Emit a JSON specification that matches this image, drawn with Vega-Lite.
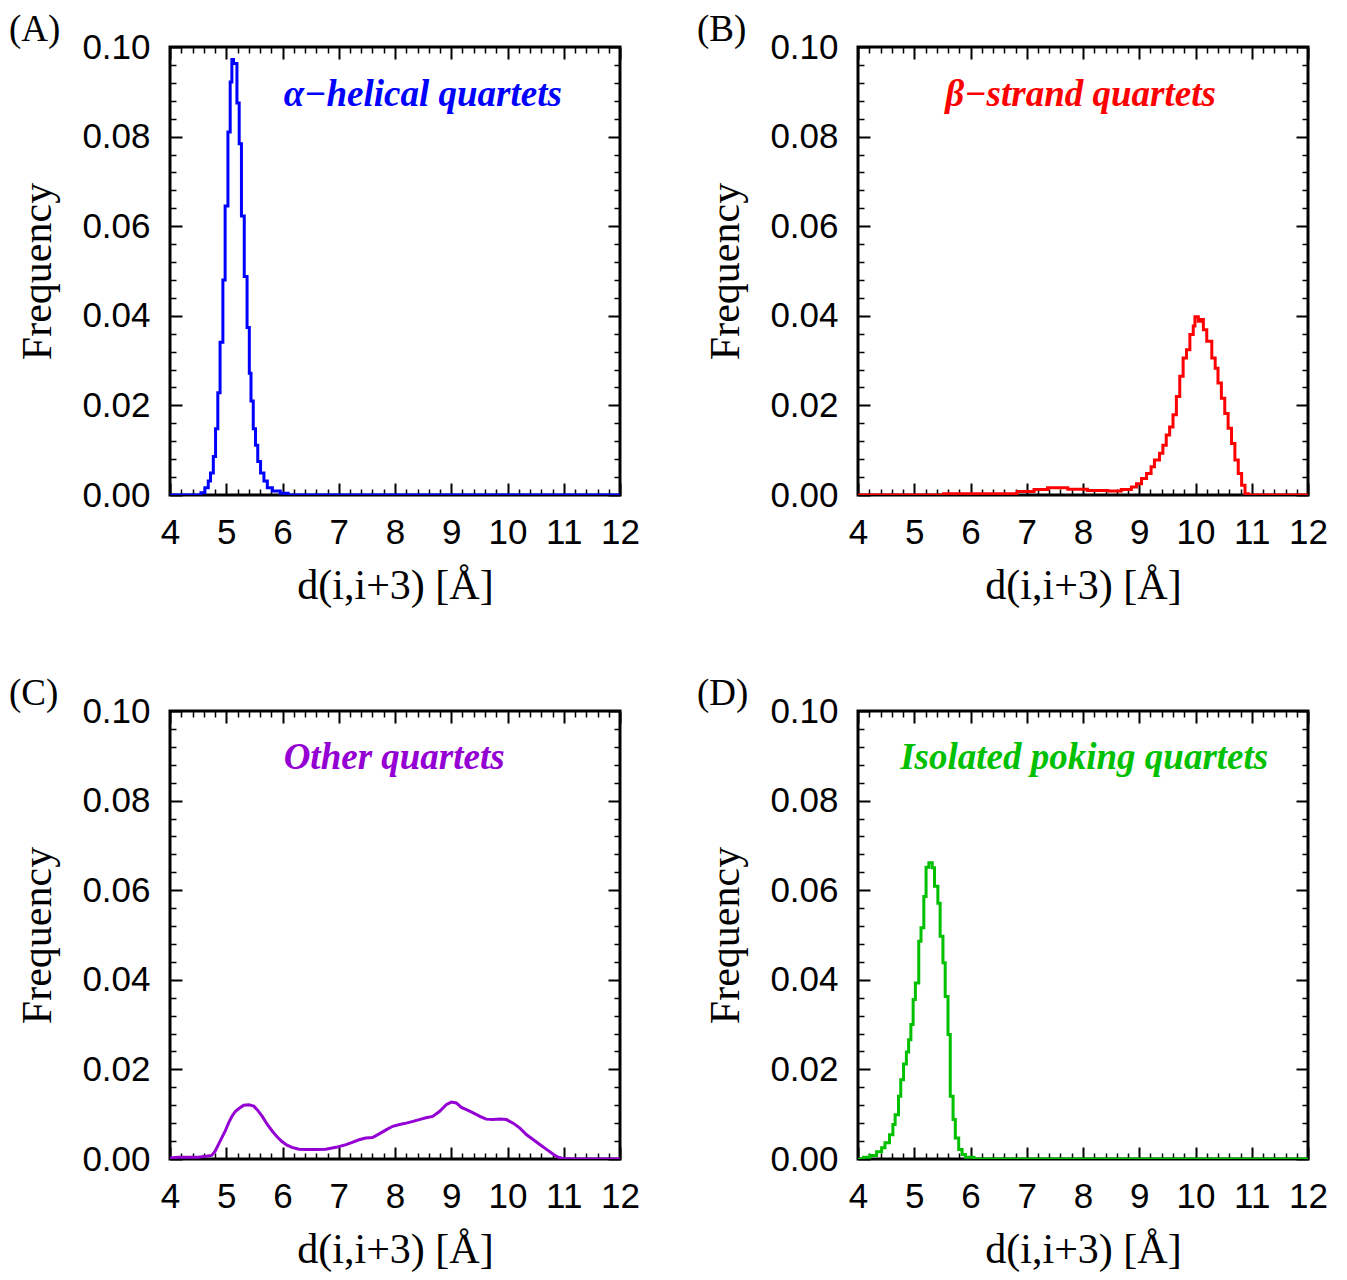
{
  "$schema": "https://vega.github.io/schema/vega-lite/v6.json",
  "background": "white",
  "padding": {"left": 7, "top": 9, "right": 5, "bottom": 0},
  "columns": 2,
  "spacing": {"column": 54, "row": 65},
  "datasets": {
    "A": [
      {"d": 4.0, "f": 0}, {"d": 4.55, "f": 0.0005}, {"d": 4.62, "f": 0.0016}, {"d": 4.68, "f": 0.0031},
      {"d": 4.72, "f": 0.0049}, {"d": 4.77, "f": 0.0086}, {"d": 4.81, "f": 0.0148}, {"d": 4.85, "f": 0.0228},
      {"d": 4.89, "f": 0.0341}, {"d": 4.94, "f": 0.048}, {"d": 4.98, "f": 0.0645}, {"d": 5.03, "f": 0.081},
      {"d": 5.07, "f": 0.0922}, {"d": 5.10, "f": 0.0972}, {"d": 5.13, "f": 0.0963}, {"d": 5.19, "f": 0.0875},
      {"d": 5.23, "f": 0.0784}, {"d": 5.27, "f": 0.0623}, {"d": 5.32, "f": 0.0488}, {"d": 5.37, "f": 0.0374},
      {"d": 5.41, "f": 0.0272}, {"d": 5.44, "f": 0.021}, {"d": 5.48, "f": 0.0148}, {"d": 5.52, "f": 0.0111},
      {"d": 5.56, "f": 0.0075}, {"d": 5.61, "f": 0.0049}, {"d": 5.67, "f": 0.0031}, {"d": 5.73, "f": 0.0016},
      {"d": 5.82, "f": 0.0009}, {"d": 5.96, "f": 0.0004}, {"d": 6.1, "f": 0}, {"d": 12, "f": 0}
    ],
    "B": [
      {"d": 4.0, "f": 0}, {"d": 5.52, "f": 0.0003}, {"d": 6.83, "f": 0.0008}, {"d": 7.13, "f": 0.0012},
      {"d": 7.37, "f": 0.0016}, {"d": 7.73, "f": 0.0013}, {"d": 8.08, "f": 0.001}, {"d": 8.44, "f": 0.0009},
      {"d": 8.68, "f": 0.0012}, {"d": 8.86, "f": 0.0018}, {"d": 8.95, "f": 0.0025}, {"d": 9.04, "f": 0.0037},
      {"d": 9.13, "f": 0.0048}, {"d": 9.21, "f": 0.0063}, {"d": 9.27, "f": 0.0078}, {"d": 9.36, "f": 0.0093},
      {"d": 9.42, "f": 0.0111}, {"d": 9.48, "f": 0.0134}, {"d": 9.54, "f": 0.0152}, {"d": 9.60, "f": 0.0179},
      {"d": 9.66, "f": 0.022}, {"d": 9.72, "f": 0.0265}, {"d": 9.78, "f": 0.0306}, {"d": 9.84, "f": 0.0324},
      {"d": 9.90, "f": 0.0358}, {"d": 9.96, "f": 0.0377}, {"d": 9.99, "f": 0.0398}, {"d": 10.05, "f": 0.0388},
      {"d": 10.09, "f": 0.0392}, {"d": 10.14, "f": 0.0369}, {"d": 10.20, "f": 0.0343}, {"d": 10.29, "f": 0.0306},
      {"d": 10.35, "f": 0.0283}, {"d": 10.40, "f": 0.025}, {"d": 10.46, "f": 0.0216}, {"d": 10.52, "f": 0.0182},
      {"d": 10.58, "f": 0.0149}, {"d": 10.64, "f": 0.0115}, {"d": 10.70, "f": 0.0078}, {"d": 10.76, "f": 0.0048},
      {"d": 10.82, "f": 0.0022}, {"d": 10.88, "f": 0.0003}, {"d": 10.94, "f": 0}, {"d": 12, "f": 0}
    ],
    "C": [
      {"d": 4.0, "f": 0.0002}, {"d": 4.15, "f": 0.0004}, {"d": 4.5, "f": 0.0004}, {"d": 4.74, "f": 0.0008},
      {"d": 4.80, "f": 0.0017}, {"d": 4.86, "f": 0.0032}, {"d": 4.92, "f": 0.0047}, {"d": 4.98, "f": 0.0062},
      {"d": 5.04, "f": 0.008}, {"d": 5.10, "f": 0.0095}, {"d": 5.16, "f": 0.0106}, {"d": 5.22, "f": 0.0112},
      {"d": 5.31, "f": 0.012}, {"d": 5.40, "f": 0.0121}, {"d": 5.49, "f": 0.0118}, {"d": 5.55, "f": 0.011},
      {"d": 5.64, "f": 0.0095}, {"d": 5.73, "f": 0.0077}, {"d": 5.82, "f": 0.0062}, {"d": 5.90, "f": 0.005},
      {"d": 5.99, "f": 0.0039}, {"d": 6.08, "f": 0.0031}, {"d": 6.17, "f": 0.0026}, {"d": 6.29, "f": 0.0022},
      {"d": 6.41, "f": 0.0021}, {"d": 6.59, "f": 0.0021}, {"d": 6.77, "f": 0.0022}, {"d": 6.95, "f": 0.0026},
      {"d": 7.13, "f": 0.0032}, {"d": 7.24, "f": 0.0037}, {"d": 7.36, "f": 0.0043}, {"d": 7.48, "f": 0.0047},
      {"d": 7.60, "f": 0.0048}, {"d": 7.72, "f": 0.0056}, {"d": 7.84, "f": 0.0065}, {"d": 7.96, "f": 0.0073},
      {"d": 8.08, "f": 0.0077}, {"d": 8.20, "f": 0.008}, {"d": 8.32, "f": 0.0084}, {"d": 8.43, "f": 0.0088},
      {"d": 8.55, "f": 0.0092}, {"d": 8.67, "f": 0.0095}, {"d": 8.79, "f": 0.0106}, {"d": 8.91, "f": 0.0121},
      {"d": 9.0, "f": 0.0127}, {"d": 9.09, "f": 0.0125}, {"d": 9.18, "f": 0.0115}, {"d": 9.27, "f": 0.011},
      {"d": 9.39, "f": 0.0103}, {"d": 9.51, "f": 0.0095}, {"d": 9.62, "f": 0.0089}, {"d": 9.74, "f": 0.0088},
      {"d": 9.86, "f": 0.0089}, {"d": 9.98, "f": 0.0088}, {"d": 10.10, "f": 0.008}, {"d": 10.22, "f": 0.0069},
      {"d": 10.34, "f": 0.0054}, {"d": 10.46, "f": 0.0043}, {"d": 10.58, "f": 0.0032}, {"d": 10.70, "f": 0.0021},
      {"d": 10.82, "f": 0.001}, {"d": 10.90, "f": 0.0004}, {"d": 10.98, "f": 0.0001}, {"d": 11.2, "f": 0},
      {"d": 12, "f": 0}
    ],
    "D": [
      {"d": 4.0, "f": 0}, {"d": 4.10, "f": 0.0004}, {"d": 4.21, "f": 0.0008}, {"d": 4.33, "f": 0.0016},
      {"d": 4.42, "f": 0.0025}, {"d": 4.48, "f": 0.0036}, {"d": 4.56, "f": 0.0054}, {"d": 4.62, "f": 0.0077},
      {"d": 4.66, "f": 0.0099}, {"d": 4.72, "f": 0.014}, {"d": 4.76, "f": 0.0177}, {"d": 4.81, "f": 0.0212},
      {"d": 4.86, "f": 0.0239}, {"d": 4.90, "f": 0.0266}, {"d": 4.94, "f": 0.03}, {"d": 4.98, "f": 0.0356},
      {"d": 5.02, "f": 0.0393}, {"d": 5.08, "f": 0.0486}, {"d": 5.12, "f": 0.0516}, {"d": 5.17, "f": 0.0586},
      {"d": 5.21, "f": 0.0651}, {"d": 5.26, "f": 0.0661}, {"d": 5.32, "f": 0.065}, {"d": 5.36, "f": 0.0609},
      {"d": 5.42, "f": 0.0571}, {"d": 5.46, "f": 0.0497}, {"d": 5.51, "f": 0.0438}, {"d": 5.55, "f": 0.0363},
      {"d": 5.60, "f": 0.0278}, {"d": 5.64, "f": 0.014}, {"d": 5.69, "f": 0.0088}, {"d": 5.73, "f": 0.0047},
      {"d": 5.79, "f": 0.0021}, {"d": 5.85, "f": 0.001}, {"d": 5.91, "f": 0.0004}, {"d": 6.06, "f": 0},
      {"d": 12, "f": 0}
    ]
  },
  "concat": [
    {
      "width": 450, "height": 448,
      "title": {"text": "(A)"},
      "layer": [
        {
          "data": {"name": "A"},
          "mark": {"type": "line", "interpolate": "step-after", "color": "#0000ff", "strokeWidth": 3, "clip": true},
          "encoding": {
            "x": {"field": "d", "type": "quantitative", "scale": {"domain": [4, 12], "nice": false, "zero": false},
              "axis": {"values": [4, 5, 6, 7, 8, 9, 10, 11, 12], "title": "d(i,i+3) [Å]", "grid": true, "gridDash": [12, 424, 12], "labelPadding": 20, "titlePadding": 15}},
            "y": {"field": "f", "type": "quantitative", "scale": {"domain": [0, 0.1], "nice": false},
              "axis": {"values": [0, 0.02, 0.04, 0.06, 0.08, 0.1], "format": ".2f", "title": "Frequency", "grid": true, "gridDash": [12, 426, 12], "labelPadding": 20, "titlePadding": 22}}
          }
        },
        {
          "data": {"values": [{"d": 6.02, "f": 0.0893, "label": "α−helical quartets"}]},
          "mark": {"type": "text", "align": "left", "baseline": "middle", "font": "Liberation Serif", "fontSize": 37, "fontStyle": "italic", "fontWeight": "bold", "color": "#0000ff"},
          "encoding": {
            "x": {"field": "d", "type": "quantitative", "axis": {"values": [4.2,4.4,4.6,4.8,5.2,5.4,5.6,5.8,6.2,6.4,6.6,6.8,7.2,7.4,7.6,7.8,8.2,8.4,8.6,8.8,9.2,9.4,9.6,9.8,10.2,10.4,10.6,10.8,11.2,11.4,11.6,11.8], "labels": false, "title": null, "grid": true, "gridDash": [6, 436, 6], "gridWidth": 1.5}},
            "y": {"field": "f", "type": "quantitative", "axis": {"values": [0.004,0.008,0.012,0.016,0.024,0.028,0.032,0.036,0.044,0.048,0.052,0.056,0.064,0.068,0.072,0.076,0.084,0.088,0.092,0.096], "labels": false, "title": null, "grid": true, "gridDash": [6, 438, 6], "gridWidth": 1.5}},
            "text": {"field": "label"}
          }
        }
      ],
      "resolve": {"axis": {"x": "independent", "y": "independent"}}
    },
    {
      "width": 450, "height": 448,
      "title": {"text": "(B)"},
      "layer": [
        {
          "data": {"name": "B"},
          "mark": {"type": "line", "interpolate": "step-after", "color": "#ff0000", "strokeWidth": 3, "clip": true},
          "encoding": {
            "x": {"field": "d", "type": "quantitative", "scale": {"domain": [4, 12], "nice": false, "zero": false},
              "axis": {"values": [4, 5, 6, 7, 8, 9, 10, 11, 12], "title": "d(i,i+3) [Å]", "grid": true, "gridDash": [12, 424, 12], "labelPadding": 20, "titlePadding": 15}},
            "y": {"field": "f", "type": "quantitative", "scale": {"domain": [0, 0.1], "nice": false},
              "axis": {"values": [0, 0.02, 0.04, 0.06, 0.08, 0.1], "format": ".2f", "title": "Frequency", "grid": true, "gridDash": [12, 426, 12], "labelPadding": 20, "titlePadding": 22}}
          }
        },
        {
          "data": {"values": [{"d": 5.55, "f": 0.0893, "label": "β−strand quartets"}]},
          "mark": {"type": "text", "align": "left", "baseline": "middle", "font": "Liberation Serif", "fontSize": 37, "fontStyle": "italic", "fontWeight": "bold", "color": "#ff0000"},
          "encoding": {
            "x": {"field": "d", "type": "quantitative", "axis": {"values": [4.2,4.4,4.6,4.8,5.2,5.4,5.6,5.8,6.2,6.4,6.6,6.8,7.2,7.4,7.6,7.8,8.2,8.4,8.6,8.8,9.2,9.4,9.6,9.8,10.2,10.4,10.6,10.8,11.2,11.4,11.6,11.8], "labels": false, "title": null, "grid": true, "gridDash": [6, 436, 6], "gridWidth": 1.5}},
            "y": {"field": "f", "type": "quantitative", "axis": {"values": [0.004,0.008,0.012,0.016,0.024,0.028,0.032,0.036,0.044,0.048,0.052,0.056,0.064,0.068,0.072,0.076,0.084,0.088,0.092,0.096], "labels": false, "title": null, "grid": true, "gridDash": [6, 438, 6], "gridWidth": 1.5}},
            "text": {"field": "label"}
          }
        }
      ],
      "resolve": {"axis": {"x": "independent", "y": "independent"}}
    },
    {
      "width": 450, "height": 448,
      "title": {"text": "(C)"},
      "layer": [
        {
          "data": {"name": "C"},
          "mark": {"type": "line", "interpolate": "linear", "color": "#9400d3", "strokeWidth": 3, "clip": true},
          "encoding": {
            "x": {"field": "d", "type": "quantitative", "scale": {"domain": [4, 12], "nice": false, "zero": false},
              "axis": {"values": [4, 5, 6, 7, 8, 9, 10, 11, 12], "title": "d(i,i+3) [Å]", "grid": true, "gridDash": [12, 424, 12], "labelPadding": 20, "titlePadding": 15}},
            "y": {"field": "f", "type": "quantitative", "scale": {"domain": [0, 0.1], "nice": false},
              "axis": {"values": [0, 0.02, 0.04, 0.06, 0.08, 0.1], "format": ".2f", "title": "Frequency", "grid": true, "gridDash": [12, 426, 12], "labelPadding": 20, "titlePadding": 22}}
          }
        },
        {
          "data": {"values": [{"d": 6.02, "f": 0.0895, "label": "Other quartets"}]},
          "mark": {"type": "text", "align": "left", "baseline": "middle", "font": "Liberation Serif", "fontSize": 37, "fontStyle": "italic", "fontWeight": "bold", "color": "#9400d3"},
          "encoding": {
            "x": {"field": "d", "type": "quantitative", "axis": {"values": [4.2,4.4,4.6,4.8,5.2,5.4,5.6,5.8,6.2,6.4,6.6,6.8,7.2,7.4,7.6,7.8,8.2,8.4,8.6,8.8,9.2,9.4,9.6,9.8,10.2,10.4,10.6,10.8,11.2,11.4,11.6,11.8], "labels": false, "title": null, "grid": true, "gridDash": [6, 436, 6], "gridWidth": 1.5}},
            "y": {"field": "f", "type": "quantitative", "axis": {"values": [0.004,0.008,0.012,0.016,0.024,0.028,0.032,0.036,0.044,0.048,0.052,0.056,0.064,0.068,0.072,0.076,0.084,0.088,0.092,0.096], "labels": false, "title": null, "grid": true, "gridDash": [6, 438, 6], "gridWidth": 1.5}},
            "text": {"field": "label"}
          }
        }
      ],
      "resolve": {"axis": {"x": "independent", "y": "independent"}}
    },
    {
      "width": 450, "height": 448,
      "title": {"text": "(D)"},
      "layer": [
        {
          "data": {"name": "D"},
          "mark": {"type": "line", "interpolate": "step-after", "color": "#00c000", "strokeWidth": 3, "clip": true},
          "encoding": {
            "x": {"field": "d", "type": "quantitative", "scale": {"domain": [4, 12], "nice": false, "zero": false},
              "axis": {"values": [4, 5, 6, 7, 8, 9, 10, 11, 12], "title": "d(i,i+3) [Å]", "grid": true, "gridDash": [12, 424, 12], "labelPadding": 20, "titlePadding": 15}},
            "y": {"field": "f", "type": "quantitative", "scale": {"domain": [0, 0.1], "nice": false},
              "axis": {"values": [0, 0.02, 0.04, 0.06, 0.08, 0.1], "format": ".2f", "title": "Frequency", "grid": true, "gridDash": [12, 426, 12], "labelPadding": 20, "titlePadding": 22}}
          }
        },
        {
          "data": {"values": [{"d": 4.75, "f": 0.0895, "label": "Isolated poking quartets"}]},
          "mark": {"type": "text", "align": "left", "baseline": "middle", "font": "Liberation Serif", "fontSize": 37, "fontStyle": "italic", "fontWeight": "bold", "color": "#00c000"},
          "encoding": {
            "x": {"field": "d", "type": "quantitative", "axis": {"values": [4.2,4.4,4.6,4.8,5.2,5.4,5.6,5.8,6.2,6.4,6.6,6.8,7.2,7.4,7.6,7.8,8.2,8.4,8.6,8.8,9.2,9.4,9.6,9.8,10.2,10.4,10.6,10.8,11.2,11.4,11.6,11.8], "labels": false, "title": null, "grid": true, "gridDash": [6, 436, 6], "gridWidth": 1.5}},
            "y": {"field": "f", "type": "quantitative", "axis": {"values": [0.004,0.008,0.012,0.016,0.024,0.028,0.032,0.036,0.044,0.048,0.052,0.056,0.064,0.068,0.072,0.076,0.084,0.088,0.092,0.096], "labels": false, "title": null, "grid": true, "gridDash": [6, 438, 6], "gridWidth": 1.5}},
            "text": {"field": "label"}
          }
        }
      ],
      "resolve": {"axis": {"x": "independent", "y": "independent"}}
    }
  ],
  "config": {
    "view": {"stroke": "black", "strokeWidth": 3},
    "axis": {
      "labelFont": "Liberation Sans", "labelFontSize": 35, "labelColor": "black", "labelFlush": false, "labelOverlap": false,
      "titleFont": "Liberation Serif", "titleFontSize": 42, "titleFontWeight": "normal", "titleColor": "black",
      "domain": false, "ticks": false, "gridColor": "black", "gridOpacity": 1, "gridWidth": 2
    },
    "title": {"font": "Liberation Serif", "fontSize": 37, "fontWeight": "normal", "anchor": "start", "frame": "bounds", "color": "black", "offset": -19, "dx": -8}
  }
}
